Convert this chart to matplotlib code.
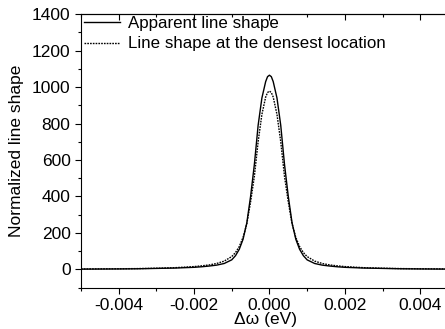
import matplotlib
matplotlib.use("Agg")
import matplotlib.pyplot as plt
from matplotlib.ticker import MultipleLocator, FormatStrFormatter

plt.rcParams['font.family'] = ['Liberation Sans', 'DejaVu Sans']
plt.rcParams['axes.unicode_minus'] = False

# detuning (eV)
delta_w = [-0.0050, -0.0040, -0.0035, -0.0030, -0.0025, -0.0020, -0.0018, -0.0016,
           -0.0014, -0.0012, -0.0010, -0.0009, -0.0008, -0.0007, -0.0006, -0.0005,
           -0.0004, -0.0003, -0.0002, -0.0001, -0.00005, 0.0, 0.00005, 0.0001,
           0.0002, 0.0003, 0.0004, 0.0005, 0.0006, 0.0007, 0.0008, 0.0009, 0.0010,
           0.0012, 0.0014, 0.0016, 0.0018, 0.0020, 0.0025, 0.0030, 0.0035, 0.0040,
           0.0048]

apparent = [1, 2, 3, 5, 7, 11, 14, 18,
            23, 32, 52, 75, 110, 165, 255, 400,
            575, 790, 940, 1030, 1057, 1065, 1057, 1030,
            940, 790, 575, 400, 255, 165, 110, 75, 52,
            32, 23, 18, 14, 11, 7, 5, 3, 2,
            1]

densest = [2, 3, 4, 6, 9, 15, 19, 24,
           32, 45, 70, 92, 125, 175, 250, 370,
           510, 700, 850, 945, 970, 978, 970, 945,
           850, 700, 510, 370, 250, 175, 125, 92, 70,
           45, 32, 24, 19, 15, 9, 6, 4, 3,
           2]

fig = plt.figure(figsize=(4.45, 3.29), dpi=100)
ax = fig.add_axes([0.182, 0.126, 0.83, 0.831])

ax.plot(delta_w, apparent, color='black', lw=1.0, label='Apparent line shape')
ax.plot(delta_w, densest, color='black', lw=1.0, ls=(0, (1.2, 0.8)),
        label='Line shape at the densest location')

ax.set_xlim(-0.005, 0.0048)
ax.set_ylim(-100, 1400)
ax.xaxis.set_major_locator(MultipleLocator(0.002))
ax.xaxis.set_minor_locator(MultipleLocator(0.001))
ax.xaxis.set_major_formatter(FormatStrFormatter('%.3f'))
ax.yaxis.set_major_locator(MultipleLocator(200))
ax.yaxis.set_minor_locator(MultipleLocator(100))
ax.tick_params(which='major', direction='out', length=4, width=0.8, labelsize=12.5)
ax.tick_params(which='minor', direction='out', length=2.5, width=0.8)
ax.spines['right'].set_visible(False)

top = ax.secondary_xaxis('top')
top.xaxis.set_major_locator(MultipleLocator(0.002))
top.xaxis.set_minor_locator(MultipleLocator(0.001))
top.tick_params(which='both', direction='in', labeltop=False)
top.tick_params(which='major', length=4, width=0.8)
top.tick_params(which='minor', length=2.5, width=0.8)

ax.set_xlabel('Δω (eV)', fontsize=12.5, labelpad=-1)
ax.set_ylabel('Normalized line shape', fontsize=12.5, labelpad=6)

ax.legend(loc='upper left', frameon=False, fontsize=12.2, handlelength=2.1,
          handletextpad=0.5, borderaxespad=0.0, borderpad=0.0, labelspacing=0.32,
          bbox_to_anchor=(0.008, 0.993))

fig.savefig('out.png', dpi=100)
